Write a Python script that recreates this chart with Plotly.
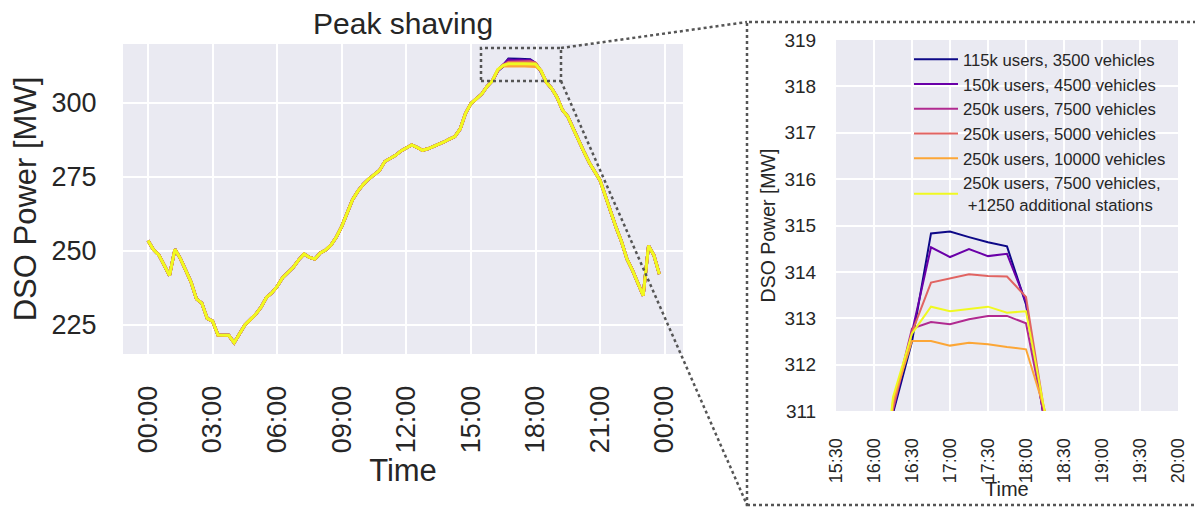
import plotly.graph_objects as go
import pandas as pd

# ---------------- data ----------------
# 15-minute DSO power profile [MW], common to all scenarios outside the evening peak
base_before = [  # 00:00 .. 16:00
    253.5, 250.5, 248.7, 245.0,
    241.7, 250.6, 247.5, 243.5,
    239.5, 233.8, 232.4, 227.2,
    226.3, 221.6, 221.6, 221.5,
    219.0, 222.0, 225.0, 226.8,
    228.6, 231.0, 234.3, 235.8,
    238.0, 241.0, 242.6, 244.5,
    247.0, 249.0, 247.8, 247.3,
    249.3, 250.3, 252.0, 254.7,
    258.3, 262.5, 267.3, 270.2,
    272.5, 274.3, 275.6, 277.2,
    280.2, 281.2, 282.3, 283.8,
    284.8, 285.8, 285.0, 284.0,
    284.5, 285.2, 286.0, 286.8,
    287.8, 288.6, 291.2, 296.5,
    299.8, 301.5, 303.0, 305.6,
    307.5,
]
base_after = [  # 18:30 .. 23:45
    307.0, 304.9, 301.9, 297.6, 295.4, 291.3, 287.2, 283.5,
    279.8, 277.0, 273.8, 268.5, 262.8, 257.8, 253.0, 247.2,
    243.5, 239.5, 234.9, 251.8, 248.5, 242.2,
]

# peak window 16:15 .. 18:15, one list per scenario
peak_115k_3500 = [310.95, 312.5, 314.83, 314.87, 314.75, 314.64, 314.55, 313.3, 310.7]
peak_150k_4500 = [311.0, 312.7, 314.53, 314.32, 314.49, 314.34, 314.39, 313.35, 310.7]
peak_250k_7500 = [311.1, 312.78, 312.92, 312.87, 312.98, 313.05, 313.05, 312.89, 310.8]
peak_250k_5000 = [311.05, 312.7, 313.77, 313.86, 313.95, 313.91, 313.9, 313.46, 310.9]
peak_250k_10000 = [311.2, 312.51, 312.51, 312.41, 312.47, 312.44, 312.38, 312.33, 311.0]
peak_250k_7500_st = [311.3, 312.67, 313.25, 313.15, 313.2, 313.25, 313.12, 313.15, 310.95]

series_names = [
    "115k users, 3500 vehicles",
    "150k users, 4500 vehicles",
    "250k users, 7500 vehicles",
    "250k users, 5000 vehicles",
    "250k users, 10000 vehicles",
    "250k users, 7500 vehicles,<br> +1250 additional stations",
]
series_peaks = [peak_115k_3500, peak_150k_4500, peak_250k_7500,
                peak_250k_5000, peak_250k_10000, peak_250k_7500_st]
series_colors = ["#0d0887", "#6a00a8", "#b12a90", "#e16462", "#fca636", "#f0f921"]

times = pd.date_range("2021-01-01 00:00", periods=96, freq="15min")

main_xticks_ms = 3 * 3600 * 1000
inset_xticks_ms = 30 * 60 * 1000

# ---------------- style ----------------
FONT = "Liberation Sans, Arial, sans-serif"
TXT = "#262626"
BG = "#eaeaf2"
OFF = 8                      # page body margin of the html page
W, H = 1203 - OFF, 508 - OFF


def px_x(p):
    return (p - OFF) / W


def px_y(p):
    return 1 - (p - OFF) / H


fig = go.Figure()

for name, color, peak in zip(series_names, series_colors, series_peaks):
    y = base_before + peak + base_after
    fig.add_trace(go.Scatter(x=times, y=y, mode="lines", name=name,
                             line=dict(color=color, width=3),
                             xaxis="x", yaxis="y", showlegend=False,
                             hoverinfo="skip"))

for name, color, peak in zip(series_names, series_colors, series_peaks):
    y = base_before + peak + base_after
    fig.add_trace(go.Scatter(x=times, y=y, mode="lines", name=name,
                             line=dict(color=color, width=2),
                             xaxis="x2", yaxis="y2", showlegend=True))

axis_common = dict(showgrid=True, gridcolor="white", gridwidth=1.5,
                   zeroline=False, showline=False, ticks="outside",
                   tickcolor="rgba(0,0,0,0)", automargin=False)

fig.update_layout(
    width=W, height=H,
    margin=dict(l=0, r=0, t=0, b=0, autoexpand=False),
    paper_bgcolor="white", plot_bgcolor=BG,
    font=dict(family=FONT, color=TXT),
    xaxis=dict(
        **axis_common,
        domain=[px_x(123), px_x(683)], anchor="y", type="date",
        range=["2020-12-31 22:50:20", "2021-01-02 00:51:00"],
        tick0="2021-01-01 00:00", dtick=main_xticks_ms, tickformat="%H:%M",
        tickangle=-90, ticklen=20, tickfont=dict(size=27),
        title=dict(text="Time", font=dict(size=31), standoff=1),
    ),
    yaxis=dict(
        **axis_common,
        domain=[px_y(354), px_y(44)], anchor="x",
        range=[215.2, 319.9], tick0=0, dtick=25,
        ticklen=20, tickfont=dict(size=27),
        title=dict(text="DSO Power [MW]", font=dict(size=31), standoff=6),
    ),
    xaxis2=dict(
        **axis_common,
        domain=[px_x(836), px_x(1178)], anchor="y2", type="date",
        range=["2021-01-01 15:30", "2021-01-01 20:00"],
        tick0="2021-01-01 00:00", dtick=inset_xticks_ms, tickformat="%H:%M",
        tickangle=-90, ticklen=19, tickfont=dict(size=18),
    ),
    yaxis2=dict(
        **axis_common,
        domain=[px_y(411), px_y(40)], anchor="x2",
        range=[311, 319], dtick=1,
        ticklen=15, tickfont=dict(size=19),
        title=dict(text="DSO Power [MW]", font=dict(size=19.5), standoff=3),
    ),
    legend=dict(x=px_x(909), y=px_y(42), xanchor="left", yanchor="top",
                bgcolor="rgba(0,0,0,0)", font=dict(size=16.7, color=TXT),
                itemwidth=44),
    annotations=[
        dict(text="Peak shaving", x=px_x(402.5), y=px_y(23),
             xref="paper", yref="paper", xanchor="center",
             yanchor="middle", showarrow=False,
             font=dict(size=30, color=TXT)),
        dict(text="Time", x=px_x(1007), y=px_y(489),
             xref="paper", yref="paper", xanchor="center",
             yanchor="middle", showarrow=False,
             font=dict(size=20, color=TXT)),
    ],
)

dot = dict(color="#555555", width=2.5, dash="dot")
shapes = [
    # zoom window on the main chart
    dict(type="rect", xref="paper", yref="paper", x0=px_x(481), x1=px_x(561),
         y0=px_y(81), y1=px_y(48), line=dot),
    # inset frame
    dict(type="rect", xref="paper", yref="paper", x0=px_x(747), x1=px_x(1201),
         y0=px_y(505), y1=px_y(22), line=dot),
    # connectors
    dict(type="line", xref="paper", yref="paper", x0=px_x(561), y0=px_y(48),
         x1=px_x(747), y1=px_y(22), line=dot),
    dict(type="line", xref="paper", yref="paper", x0=px_x(561), y0=px_y(81),
         x1=px_x(747), y1=px_y(505), line=dot),
]
fig.update_layout(shapes=shapes)

fig.write_html("out.html")
